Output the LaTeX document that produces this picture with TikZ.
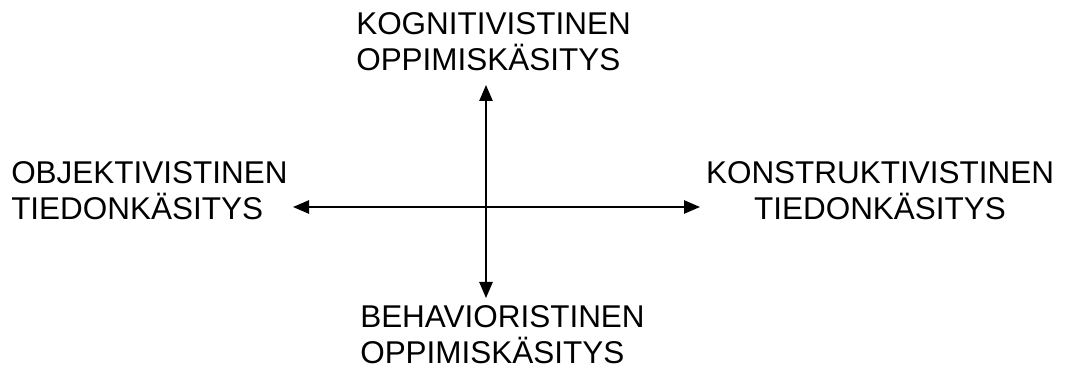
\documentclass[tikz,border=0pt]{standalone}
\usepackage{fontspec}
\setmainfont{Liberation Sans}
\usetikzlibrary{arrows.meta}

\begin{document}
\begin{tikzpicture}[x=0.75pt,y=-0.75pt,
		lbl/.style={inner sep=0pt,font=\fontsize{23.6}{27}\selectfont},
		axis/.style={line width=1.1pt,{Triangle[length=12pt,width=10pt]}-{Triangle[length=12pt,width=10pt]}}]
			\useasboundingbox (0,0) rectangle (1067,370);
			
			% Fixed coordinates
			\coordinate (up) at (486,85);
			\coordinate (down) at (486,298);
			\coordinate (left) at (293,207);
			\coordinate (right) at (700,207);
			
			% Labels
			\node (kog) at (356,12) [lbl, anchor=north west, align=left] {KOGNITIVISTINEN\\OPPIMISKÄSITYS};
			\node (obj) at (11,161) [lbl, anchor=north west, align=left] {OBJEKTIVISTINEN\\TIEDONKÄSITYS};
			\node (kon) at (880,161) [lbl, anchor=north, align=center] {KONSTRUKTIVISTINEN\\TIEDONKÄSITYS};
			\node (beh) at (360,305) [lbl, anchor=north west, align=left] {BEHAVIORISTINEN\\OPPIMISKÄSITYS};
			
			% Axes
			\draw[axis] (left) -- (right);
			\draw[axis] (down) -- (up);
		\end{tikzpicture}
\end{document}
